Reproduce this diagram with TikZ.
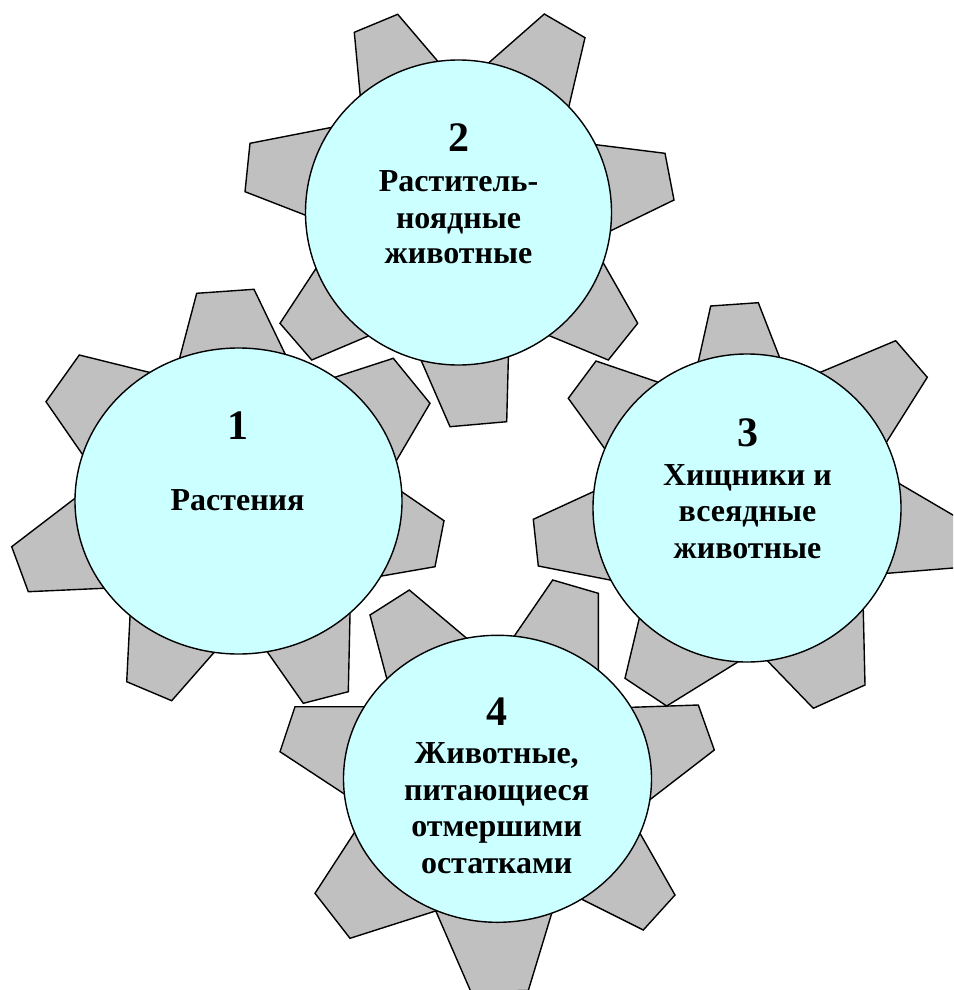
\documentclass[tikz,border=0pt]{standalone}
\usepackage{fontspec}
\setmainfont{Liberation Serif}
\usetikzlibrary{calc,shapes.geometric}
\definecolor{toothgray}{HTML}{C0C0C0}
\definecolor{hubcyan}{HTML}{CCFFFF}
\newcommand\geartooth[4]{\draw[toothstyle] ($(#2)!1.6!(#1)$) -- (#2) -- (#3) -- ($(#3)!1.6!(#4)$) -- cycle;}
\begin{document}
\begin{tikzpicture}[x=1pt,y=-1pt,
  toothstyle/.style={fill=toothgray,draw=black,line width=1.4pt},
  hub/.style={ellipse,draw=black,fill=hubcyan,line width=1.4pt,inner sep=0pt},
  numtxt/.style={font=\fontsize{42}{44}\selectfont\bfseries,inner sep=0pt,anchor=base},
  linetxt/.style={font=\fontsize{32}{36}\selectfont\bfseries,inner sep=0pt,anchor=base}]
\fill[white] (0,0) rectangle (953,990);
\clip (0,0) rectangle (953,990);
% ---------- gear 1
\geartooth{180,356.7}{196.7,293.3}{254,289.3}{284,351.7}
\geartooth{146.7,371.7}{79.3,355}{46,401.7}{81.7,453.3}
\geartooth{75,498.3}{11.7,546.7}{28.3,591.7}{103.3,588.3}
\geartooth{130,616.7}{126.7,681.7}{171.7,700.7}{213.3,653.3}
\geartooth{268.3,653.3}{303.3,703.3}{348.3,691.7}{350,615}
\geartooth{401.7,491.7}{444,520.7}{435,566.7}{381.7,576}
\geartooth{336.7,376.7}{393.3,358.3}{430,403.3}{396.7,460}
\node[hub,minimum width=327pt,minimum height=306pt] (g1) at (238.5,501) {};
% ---------- gear 2
\geartooth{360,93.3}{354.3,32.3}{397.7,14.3}{436.7,60}
\geartooth{490,61.7}{544.3,14}{585,37.7}{570,101.7}
\geartooth{598.3,145}{665,153.3}{674,200}{612.3,230}
\geartooth{608.3,271.7}{637.7,323.3}{608.3,360}{551.7,336.7}
\geartooth{508.3,360}{506.7,421.7}{450,426.7}{421.7,361.7}
\geartooth{366.7,336.7}{311.7,360}{280,323.3}{315,270}
\geartooth{305,215}{245,191.7}{250,143.3}{330,127.7}
\node[hub,minimum width=306pt,minimum height=305pt] (g2) at (458.5,212.5) {};
% ---------- gear 3
\geartooth{698.3,361.7}{710.7,306}{758.3,302.7}{779.3,356.7}
\geartooth{821.7,371.7}{895.7,340.7}{927.3,377.3}{886.7,441.7}
\geartooth{900,484}{958,518}{958,567.6}{887.3,573.3}
\geartooth{863.3,611.7}{865,685}{813.3,708.3}{768.3,661.7}
\geartooth{738.3,661.7}{666.7,706}{625,678.3}{639.3,618.3}
\geartooth{593.3,491.7}{533.3,519.3}{538.3,566}{610,580}
\geartooth{656.7,381.7}{596,361}{568.3,398.3}{603.3,446.7}
\node[hub,minimum width=308pt,minimum height=308pt] (g3) at (747,508) {};
% ---------- gear 4
\geartooth{386.7,678.3}{370,615}{409.3,590}{466.7,638.3}
\geartooth{515,635}{552.7,580}{598.3,593.3}{598.3,670}
\geartooth{631.7,707.3}{698.3,705}{714.3,750}{651.7,798.3}
\geartooth{640,833.3}{675,895}{643.3,930}{583.3,900}
\geartooth{551.7,913.3}{528.3,990.5}{470.8,991.5}{438.3,916.7}
\geartooth{428.3,913.3}{350,938.3}{315,893.3}{355,831.7}
\geartooth{363.3,706.7}{295,706.7}{280,751.7}{343.3,793.3}
\node[hub,minimum width=308pt,minimum height=287pt] (g4) at (497.5,778.8) {};
% ---------- texts
\node[numtxt] (n1) at (237.5,439.3) {1};
\node[linetxt] (t1a) at (237.5,510) {Растения};
\node[numtxt] (n2) at (458.5,151.7) {2};
\node[linetxt] (t2a) at (458.5,191.5) {Раститель-};
\node[linetxt] (t2b) at (458.5,228) {ноядные};
\node[linetxt] (t2c) at (458.5,263.5) {животные};
\node[numtxt] (n3) at (747.5,446) {3};
\node[linetxt] (t3a) at (747.5,485) {Хищники и};
\node[linetxt] (t3b) at (747.5,521.7) {всеядные};
\node[linetxt] (t3c) at (747.5,558.3) {животные};
\node[numtxt] (n4) at (496.7,725) {4};
\node[linetxt] (t4a) at (496.7,763.3) {Животные,};
\node[linetxt] (t4b) at (496.7,800) {питающиеся};
\node[linetxt] (t4c) at (496.7,836.7) {отмершими};
\node[linetxt] (t4d) at (496.7,873.3) {остатками};
\end{tikzpicture}
\end{document}
